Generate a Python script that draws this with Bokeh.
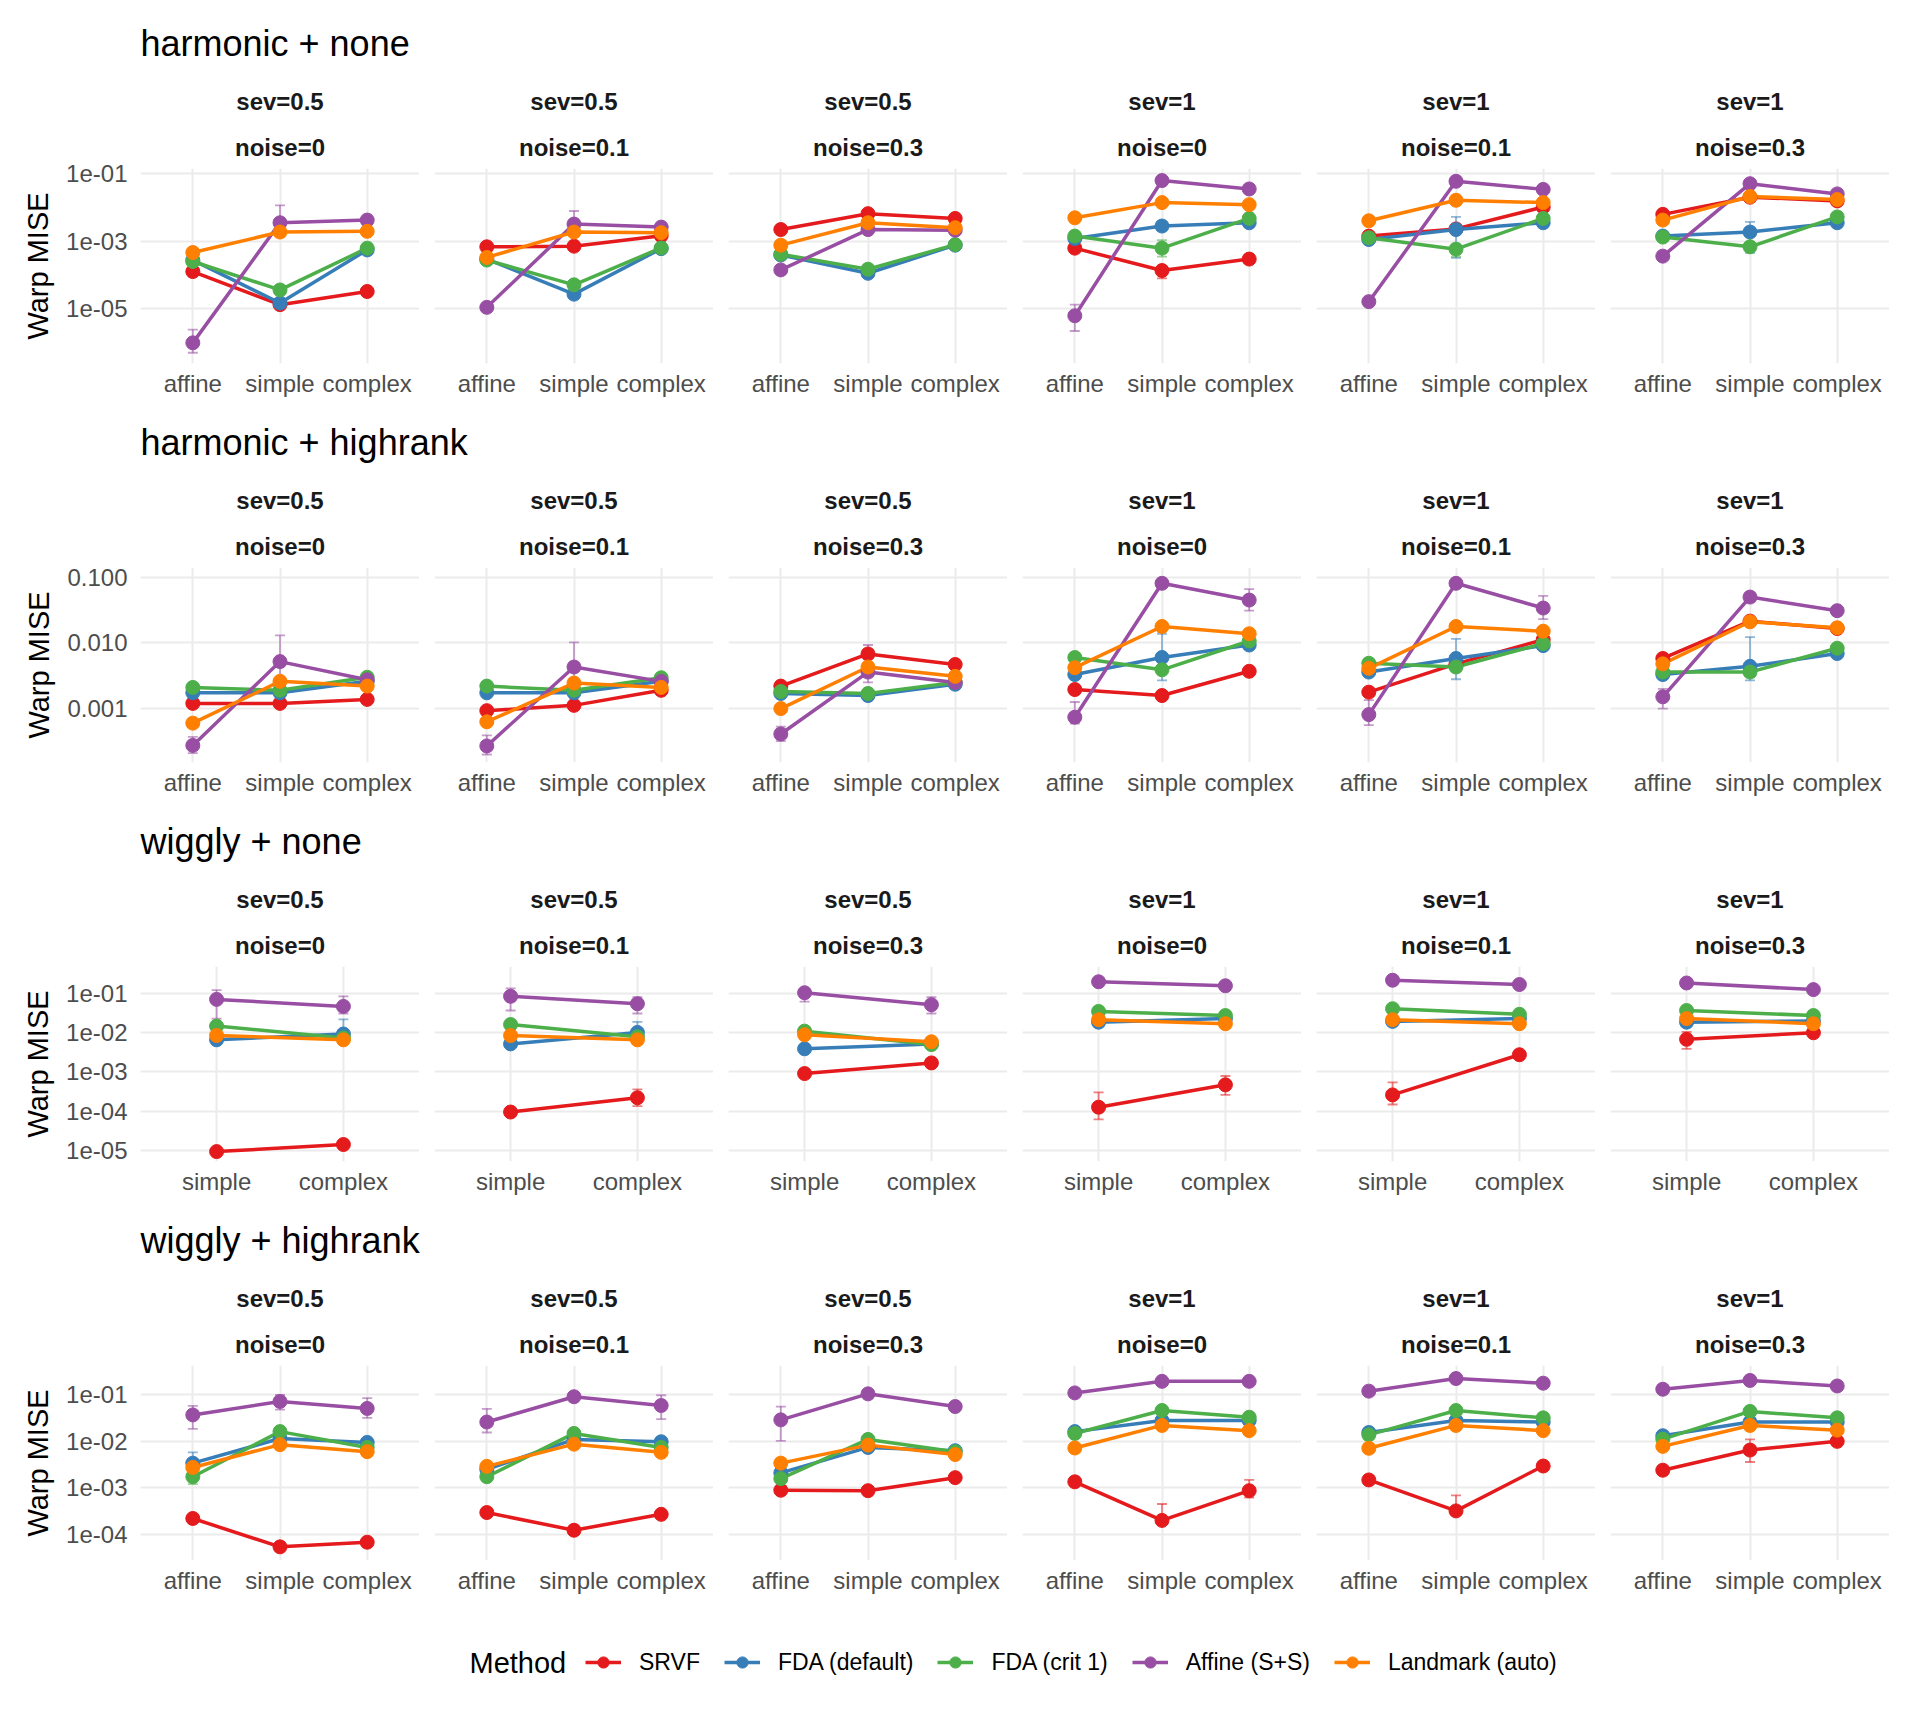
from bokeh.plotting import figure
from bokeh.models import (ColumnDataSource, FactorRange, Range1d, FixedTicker,
                          CustomJSTickFormatter, Title, Whisker, TeeHead, Legend, LegendItem, Label)
from bokeh.layouts import column, row
from bokeh.embed import file_html
from bokeh.resources import INLINE

FONT = "Liberation Sans"

METHODS = ["SRVF", "FDA (default)", "FDA (crit 1)", "Affine (S+S)", "Landmark (auto)"]
COLORS = ["#E41A1C", "#377EB8", "#4DAF4A", "#984EA3", "#FF7F00"]

SEV = ["0.5", "0.5", "0.5", "1", "1", "1"]
NOISE = ["0", "0.1", "0.3", "0", "0.1", "0.3"]

CATS3 = ["affine", "simple", "complex"]
CATS2 = ["simple", "complex"]

# Warp MISE per method, one list per panel (sev/noise combination), values per category
harmonic_none = {
    "SRVF":            [[1.26e-4, 1.32e-5, 3.24e-5], [6.8e-4, 7.1e-4, 1.45e-3], [2.2e-3, 6.5e-3, 4.7e-3],
                        [6.2e-4, 1.35e-4, 2.95e-4], [1.41e-3, 2.3e-3, 1.02e-2], [6.2e-3, 2.0e-2, 1.55e-2]],
    "FDA (default)":   [[2.75e-4, 1.48e-5, 5.5e-4], [2.95e-4, 2.7e-5, 6.0e-4], [3.9e-4, 1.12e-4, 7.6e-4],
                        [1.2e-3, 2.8e-3, 3.5e-3], [1.12e-3, 2.2e-3, 3.5e-3], [1.41e-3, 1.86e-3, 3.5e-3]],
    "FDA (crit 1)":    [[2.5e-4, 3.6e-5, 6.2e-4], [2.75e-4, 5.1e-5, 6.3e-4], [4.1e-4, 1.48e-4, 7.9e-4],
                        [1.41e-3, 6.2e-4, 4.7e-3], [1.26e-3, 5.8e-4, 4.7e-3], [1.32e-3, 6.8e-4, 5.2e-3]],
    "Affine (S+S)":    [[9.8e-7, 3.5e-3, 4.2e-3], [1.1e-5, 3.2e-3, 2.6e-3], [1.41e-4, 2.2e-3, 2.1e-3],
                        [6.2e-6, 6.2e-2, 3.5e-2], [1.62e-5, 5.9e-2, 3.4e-2], [3.6e-4, 5.0e-2, 2.5e-2]],
    "Landmark (auto)": [[4.6e-4, 1.86e-3, 1.95e-3], [3.3e-4, 1.86e-3, 1.78e-3], [7.6e-4, 3.5e-3, 2.5e-3],
                        [4.9e-3, 1.38e-2, 1.2e-2], [4.0e-3, 1.62e-2, 1.38e-2], [4.2e-3, 2.1e-2, 1.7e-2]],
}

harmonic_highrank = {
    "SRVF":            [[1.2e-3, 1.2e-3, 1.38e-3], [9.3e-4, 1.12e-3, 1.9e-3], [2.2e-3, 6.8e-3, 4.7e-3],
                        [1.95e-3, 1.58e-3, 3.7e-3], [1.78e-3, 4.8e-3, 1.12e-2], [5.8e-3, 2.15e-2, 1.66e-2]],
    "FDA (default)":   [[1.74e-3, 1.74e-3, 2.6e-3], [1.74e-3, 1.74e-3, 2.6e-3], [1.7e-3, 1.58e-3, 2.35e-3],
                        [3.3e-3, 6.0e-3, 9.3e-3], [3.6e-3, 5.8e-3, 9.1e-3], [3.3e-3, 4.4e-3, 6.9e-3]],
    "FDA (crit 1)":    [[2.1e-3, 1.9e-3, 3.0e-3], [2.2e-3, 1.9e-3, 2.95e-3], [1.82e-3, 1.7e-3, 2.5e-3],
                        [6.0e-3, 3.9e-3, 1.07e-2], [4.9e-3, 4.3e-3, 9.8e-3], [3.6e-3, 3.6e-3, 8.3e-3]],
    "Affine (S+S)":    [[2.75e-4, 5.2e-3, 2.75e-3], [2.7e-4, 4.3e-3, 2.6e-3], [4.1e-4, 3.6e-3, 2.5e-3],
                        [7.4e-4, 8.1e-2, 4.5e-2], [8.1e-4, 8.1e-2, 3.4e-2], [1.51e-3, 5.0e-2, 3.1e-2]],
    "Landmark (auto)": [[6.0e-4, 2.6e-3, 2.2e-3], [6.3e-4, 2.45e-3, 2.1e-3], [1.0e-3, 4.3e-3, 3.1e-3],
                        [4.2e-3, 1.78e-2, 1.38e-2], [4.1e-3, 1.78e-2, 1.51e-2], [4.8e-3, 2.1e-2, 1.7e-2]],
}

wiggly_none = {
    "SRVF":            [[9.3e-6, 1.41e-5], [9.5e-5, 2.2e-4], [9.1e-4, 1.7e-3],
                        [1.26e-4, 4.7e-4], [2.6e-4, 2.75e-3], [6.8e-3, 1.0e-2]],
    "FDA (default)":   [[6.6e-3, 9.3e-3], [5.2e-3, 1.02e-2], [3.9e-3, 5.2e-3],
                        [1.86e-2, 2.3e-2], [1.95e-2, 2.3e-2], [1.86e-2, 2.0e-2]],
    "FDA (crit 1)":    [[1.48e-2, 7.4e-3], [1.62e-2, 7.9e-3], [1.1e-2, 5.0e-3],
                        [3.5e-2, 2.75e-2], [4.1e-2, 2.95e-2], [3.7e-2, 2.75e-2]],
    "Affine (S+S)":    [[7.1e-2, 4.7e-2], [8.5e-2, 5.5e-2], [1.05e-1, 5.2e-2],
                        [2.0e-1, 1.58e-1], [2.19e-1, 1.7e-1], [1.86e-1, 1.26e-1]],
    "Landmark (auto)": [[8.5e-3, 6.6e-3], [8.5e-3, 6.6e-3], [8.9e-3, 5.9e-3],
                        [2.15e-2, 1.7e-2], [2.15e-2, 1.7e-2], [2.3e-2, 1.7e-2]],
}

wiggly_highrank = {
    "SRVF":            [[2.2e-4, 5.4e-5, 6.8e-5], [2.95e-4, 1.23e-4, 2.7e-4], [8.9e-4, 8.7e-4, 1.66e-3],
                        [1.35e-3, 2.0e-4, 8.7e-4], [1.48e-3, 3.2e-4, 2.95e-3], [2.4e-3, 6.5e-3, 1.0e-2]],
    "FDA (default)":   [[3.4e-3, 1.15e-2, 9.5e-3], [2.5e-3, 1.1e-2, 9.8e-3], [2.1e-3, 7.4e-3, 6.3e-3],
                        [1.62e-2, 2.8e-2, 2.8e-2], [1.55e-2, 2.8e-2, 2.6e-2], [1.32e-2, 2.6e-2, 2.6e-2]],
    "FDA (crit 1)":    [[1.74e-3, 1.62e-2, 7.4e-3], [1.74e-3, 1.48e-2, 7.4e-3], [1.58e-3, 1.1e-2, 6.0e-3],
                        [1.48e-2, 4.6e-2, 3.3e-2], [1.38e-2, 4.6e-2, 3.2e-2], [1.12e-2, 4.4e-2, 3.2e-2]],
    "Affine (S+S)":    [[3.7e-2, 7.2e-2, 5.1e-2], [2.6e-2, 9.1e-2, 5.9e-2], [2.9e-2, 1.05e-1, 5.6e-2],
                        [1.1e-1, 1.95e-1, 1.95e-1], [1.2e-1, 2.24e-1, 1.78e-1], [1.32e-1, 2.04e-1, 1.55e-1]],
    "Landmark (auto)": [[2.75e-3, 8.5e-3, 6.0e-3], [2.9e-3, 8.7e-3, 5.8e-3], [3.4e-3, 8.3e-3, 5.2e-3],
                        [7.2e-3, 2.2e-2, 1.7e-2], [7.1e-3, 2.2e-2, 1.7e-2], [7.8e-3, 2.2e-2, 1.74e-2]],
}

# visible error bars: (row, panel, method, category, lower, upper)
ERRORS = [
    (0, 0, "Affine (S+S)", "affine", 5.0e-7, 2.4e-6),
    (0, 0, "Affine (S+S)", "simple", 2.0e-3, 1.15e-2),
    (0, 0, "Affine (S+S)", "complex", 3.0e-3, 5.5e-3),
    (0, 1, "Affine (S+S)", "simple", 2.2e-3, 7.8e-3),
    (0, 1, "Affine (S+S)", "complex", 2.0e-3, 3.5e-3),
    (0, 3, "Affine (S+S)", "affine", 2.2e-6, 1.32e-5),
    (0, 3, "FDA (crit 1)", "simple", 3.5e-4, 1.07e-3),
    (0, 3, "SRVF", "simple", 7.9e-5, 1.8e-4),
    (0, 4, "FDA (default)", "simple", 3.2e-4, 5.2e-3),
    (0, 4, "FDA (crit 1)", "simple", 3.5e-4, 8.0e-4),
    (0, 5, "FDA (default)", "simple", 4.5e-4, 3.7e-3),
    (1, 0, "Affine (S+S)", "simple", 2.1e-3, 1.3e-2),
    (1, 0, "Affine (S+S)", "affine", 2.1e-4, 3.7e-4),
    (1, 1, "Affine (S+S)", "simple", 1.9e-3, 1.02e-2),
    (1, 1, "Affine (S+S)", "affine", 2.0e-4, 3.9e-4),
    (1, 2, "Affine (S+S)", "affine", 3.2e-4, 5.3e-4),
    (1, 2, "Affine (S+S)", "simple", 2.5e-3, 9.3e-3),
    (1, 3, "FDA (default)", "simple", 2.7e-3, 1.38e-2),
    (1, 3, "Affine (S+S)", "complex", 3.1e-2, 6.6e-2),
    (1, 3, "Affine (S+S)", "affine", 5.9e-4, 1.26e-3),
    (1, 4, "FDA (default)", "simple", 2.8e-3, 1.15e-2),
    (1, 4, "Affine (S+S)", "complex", 2.3e-2, 5.2e-2),
    (1, 4, "Affine (S+S)", "affine", 5.6e-4, 1.35e-3),
    (1, 5, "FDA (default)", "simple", 2.7e-3, 1.23e-2),
    (1, 5, "Affine (S+S)", "affine", 1.0e-3, 2.0e-3),
    (2, 0, "Affine (S+S)", "simple", 2.3e-2, 1.23e-1),
    (2, 0, "Affine (S+S)", "complex", 3.1e-2, 8.5e-2),
    (2, 0, "FDA (default)", "complex", 5.2e-3, 2.2e-2),
    (2, 1, "Affine (S+S)", "simple", 3.7e-2, 1.35e-1),
    (2, 1, "Affine (S+S)", "complex", 3.1e-2, 8.1e-2),
    (2, 1, "FDA (default)", "complex", 6.0e-3, 1.9e-2),
    (2, 1, "SRVF", "complex", 1.35e-4, 3.6e-4),
    (2, 2, "Affine (S+S)", "simple", 6.2e-2, 1.12e-1),
    (2, 2, "Affine (S+S)", "complex", 3.1e-2, 8.1e-2),
    (2, 3, "SRVF", "simple", 6.2e-5, 3.0e-4),
    (2, 3, "SRVF", "complex", 2.6e-4, 7.9e-4),
    (2, 4, "SRVF", "simple", 1.48e-4, 5.4e-4),
    (2, 5, "SRVF", "simple", 3.9e-3, 1.05e-2),
    (3, 0, "Affine (S+S)", "affine", 1.86e-2, 5.8e-2),
    (3, 0, "FDA (default)", "affine", 2.0e-3, 5.8e-3),
    (3, 0, "FDA (crit 1)", "affine", 1.2e-3, 2.5e-3),
    (3, 0, "Affine (S+S)", "complex", 3.2e-2, 8.5e-2),
    (3, 0, "Affine (S+S)", "simple", 4.8e-2, 1.0e-1),
    (3, 1, "Affine (S+S)", "affine", 1.55e-2, 5.0e-2),
    (3, 1, "Affine (S+S)", "complex", 3.0e-2, 9.8e-2),
    (3, 2, "Affine (S+S)", "affine", 1.02e-2, 5.6e-2),
    (3, 3, "SRVF", "simple", 2.0e-4, 4.5e-4),
    (3, 3, "SRVF", "complex", 6.2e-4, 1.48e-3),
    (3, 4, "SRVF", "simple", 3.2e-4, 6.9e-4),
    (3, 5, "SRVF", "simple", 3.6e-3, 1.1e-2),
]

SCI_FMT = """
const e = Math.round(Math.log10(tick));
const a = Math.abs(e);
return "1e" + (e < 0 ? "-" : "+") + (a < 10 ? "0" : "") + a;
"""
FIX_FMT = "return tick.toFixed(3);"

ROWS = [
    dict(title="harmonic + none", cats=CATS3, values=harmonic_none,
         ylim=(2.4e-7, 0.141), ticks=[1e-5, 1e-3, 1e-1], fmt=SCI_FMT),
    dict(title="harmonic + highrank", cats=CATS3, values=harmonic_highrank,
         ylim=(1.51e-4, 0.141), ticks=[1e-3, 1e-2, 1e-1], fmt=FIX_FMT),
    dict(title="wiggly + none", cats=CATS2, values=wiggly_none,
         ylim=(5.2e-6, 0.49), ticks=[1e-5, 1e-4, 1e-3, 1e-2, 1e-1], fmt=SCI_FMT),
    dict(title="wiggly + highrank", cats=CATS3, values=wiggly_highrank,
         ylim=(2.75e-5, 0.427), ticks=[1e-4, 1e-3, 1e-2, 1e-1], fmt=SCI_FMT),
]

FRAME_W, FRAME_H = 279, 195
LEFT0, GAP = 140, 15
TOTAL_W = LEFT0 + FRAME_W + 5 * (GAP + FRAME_W)


def strip_title(text, standoff):
    return Title(text=text, text_font=FONT, text_font_size="24px", text_font_style="bold",
                 text_color="#1A1A1A", align="center", vertical_align="middle", standoff=standoff)


def make_panel(ri, k, spec):
    first = k == 0
    cats = spec["cats"]
    p = figure(x_range=FactorRange(factors=cats, range_padding=0.1, range_padding_units="absolute"),
               y_axis_type="log", y_range=Range1d(*spec["ylim"]),
               frame_width=FRAME_W, frame_height=FRAME_H,
               min_border_left=LEFT0 if first else GAP, min_border_right=0,
               min_border_top=98, min_border_bottom=34,
               toolbar_location=None, output_backend="svg", title=None,
               outline_line_color=None, background_fill_color="white", border_fill_color="white")
    for ax in (p.xaxis, p.yaxis):
        ax.axis_line_color = None
        ax.major_tick_line_color = None
        ax.minor_tick_line_color = None
        ax.major_tick_out = 0
        ax.major_tick_in = 0
        ax.minor_tick_out = 0
        ax.major_label_text_font = FONT
        ax.major_label_text_font_size = "24px"
        ax.major_label_text_color = "#4D4D4D"
    p.xaxis.major_label_standoff = 6
    p.yaxis.major_label_standoff = 13
    p.yaxis.ticker = FixedTicker(ticks=spec["ticks"])
    p.ygrid.ticker = FixedTicker(ticks=spec["ticks"])
    p.yaxis.formatter = CustomJSTickFormatter(code=spec["fmt"])
    if first:
        p.yaxis.axis_label = "Warp MISE"
        p.yaxis.axis_label_text_font = FONT
        p.yaxis.axis_label_text_font_size = "29px"
        p.yaxis.axis_label_text_font_style = "normal"
        p.yaxis.axis_label_text_color = "black"
        p.yaxis.axis_label_standoff = 9
    else:
        p.yaxis.visible = False
    p.grid.grid_line_color = "#EBEBEB"
    p.grid.grid_line_width = 2
    p.grid.minor_grid_line_color = None

    vals = spec["values"]
    for m, c in zip(METHODS, COLORS):
        p.line(x=cats, y=vals[m][k], line_color=c, line_width=3.5)
    for m, c in zip(METHODS, COLORS):
        p.scatter(x=cats, y=vals[m][k], size=14, fill_color=c, line_color=c)
    for (r, pk, m, cat, lo, hi) in ERRORS:
        if r == ri and pk == k:
            c = COLORS[METHODS.index(m)]
            src = ColumnDataSource(dict(x=[cat], lo=[lo], hi=[hi]))
            w = Whisker(source=src, base="x", lower="lo", upper="hi", dimension="height",
                        line_color=c, line_alpha=0.55, line_width=1.8,
                        upper_head=TeeHead(size=10, line_color=c, line_alpha=0.55, line_width=1.8),
                        lower_head=TeeHead(size=10, line_color=c, line_alpha=0.55, line_width=1.8))
            p.add_layout(w)

    p.add_layout(strip_title(f"noise={NOISE[k]}", 14), "above")
    p.add_layout(strip_title(f"sev={SEV[k]}", 19), "above")
    return p


def make_row_title(text):
    t = figure(width=TOTAL_W, height=70, min_border_left=LEFT0, min_border_right=0,
               min_border_top=68, min_border_bottom=0,
               x_axis_location=None, y_axis_location=None,
               x_range=Range1d(0, 1), y_range=Range1d(0, 1),
               toolbar_location=None, output_backend="svg", title=None,
               outline_line_color=None)
    t.grid.visible = False
    t.add_layout(Title(text=text, text_font=FONT, text_font_size="36px", text_font_style="normal",
                       text_color="black", align="left", standoff=10), "above")
    return t


blocks = []
for ri, spec in enumerate(ROWS):
    panels = [make_panel(ri, k, spec) for k in range(6)]
    blocks.append(column(make_row_title(spec["title"]), row(*panels)))

# legend (proxy renderers carry a single NaN point, so they draw nothing in the frame)
LEG_H = 128
lg = figure(width=TOTAL_W, height=LEG_H, min_border_left=LEFT0, min_border_right=0,
            min_border_top=0, min_border_bottom=0,
            x_axis_location=None, y_axis_location=None,
            x_range=Range1d(0, 1), y_range=Range1d(0, 1),
            toolbar_location=None, output_backend="svg", title=None, outline_line_color=None)
lg.grid.visible = False
items = []
for m, c in zip(METHODS, COLORS):
    src = ColumnDataSource(dict(x=[float("nan")], y=[float("nan")]))
    lr = lg.line(x="x", y="y", source=src, line_color=c, line_width=3.5)
    sr = lg.scatter(x="x", y="y", source=src, size=14, fill_color=c, line_color=c)
    items.append(LegendItem(label=m, renderers=[lr, sr]))
LEG_MID = 62
legend = Legend(items=items, orientation="horizontal", location=(445, LEG_MID - 14),
                label_text_font=FONT, label_text_font_size="23px", label_text_color="black",
                label_text_baseline="middle",
                glyph_width=36, glyph_height=28, label_height=28, label_standoff=18, spacing=24,
                padding=0, margin=0, border_line_color=None, background_fill_alpha=0)
lg.add_layout(legend, "center")
lg.add_layout(Label(x=329, y=LEG_MID, x_units="screen", y_units="screen", text="Method",
                    text_font=FONT, text_font_size="29px", text_color="black",
                    text_baseline="middle", text_align="left"))

layout = column(*blocks, lg)

with open("out.html", "w") as f:
    f.write(file_html(layout, INLINE))
